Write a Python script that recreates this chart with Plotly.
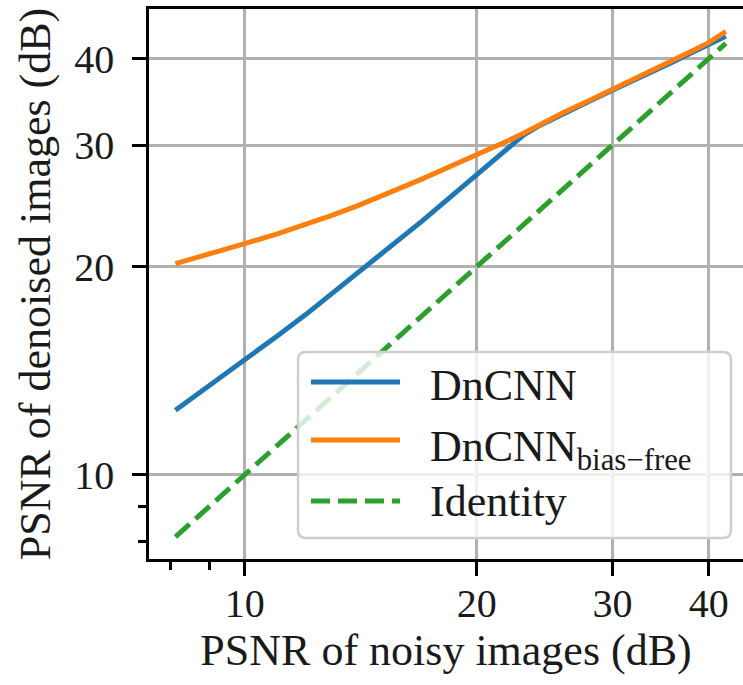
import plotly.graph_objects as go

# ---- data ----
psnr_noisy = [8.13, 9, 10, 11, 12, 13, 14, 15, 16, 17, 18, 19, 20, 21, 22, 23, 24,
              26, 28, 30, 32, 34, 36, 38, 40, 42.1]
dncnn = [12.4, 13.45, 14.65, 15.85, 17.05, 18.3, 19.55, 20.8, 22.05, 23.3, 24.6, 25.9, 27.2,
         28.55, 29.85, 31.0, 31.9, 33.4, 34.7, 36.0, 37.2, 38.4, 39.6, 40.8, 41.9, 43.1]
dncnn_bf = [20.2, 20.85, 21.6, 22.3, 23.0, 23.75, 24.5, 25.25, 26.05, 26.8, 27.55, 28.3, 29.05,
            29.75, 30.45, 31.2, 32.0, 33.5, 34.8, 36.1, 37.3, 38.5, 39.7, 41.0, 42.2, 43.8]
identity = list(psnr_noisy)

major_ticks = [10, 20, 30, 40]
minor_ticks = [8, 9]
series_names = ["DnCNN", "DnCNN<sub>bias\u2212free</sub>", "Identity"]
colors = ["#1f77b4", "#ff7f0e", "#2ca02c"]

W, H = 743, 685
ML, MR, MT, MB = 149, 0, 9, 126
FONT = "Liberation Serif"

fig = go.Figure()
fig.add_trace(go.Scatter(x=psnr_noisy, y=dncnn, mode="lines", name="DnCNN",
                         line=dict(color=colors[0], width=5), showlegend=False))
fig.add_trace(go.Scatter(x=psnr_noisy, y=dncnn_bf, mode="lines", name="DnCNN bias-free",
                         line=dict(color=colors[1], width=5), showlegend=False))
fig.add_trace(go.Scatter(x=psnr_noisy, y=identity, mode="lines", name="Identity",
                         line=dict(color=colors[2], width=5, dash="19px,8px"), showlegend=False))

axis_common = dict(
    type="log", showline=True, linecolor="black", linewidth=2.5,
    showgrid=True, gridcolor="#b0b0b0", gridwidth=2.5,
    ticks="outside", ticklen=14, tickwidth=2.5, tickcolor="black",
    tickmode="array", tickvals=major_ticks, ticktext=[str(t) for t in major_ticks],
    tickfont=dict(family=FONT, size=40, color="#1a1a1a"),
    minor=dict(tickmode="array", tickvals=minor_ticks, ticks="outside", ticklen=8,
               tickwidth=2.5, tickcolor="black", showgrid=False),
    zeroline=False, automargin=False,
)

fig.update_layout(
    width=W, height=H,
    margin=dict(l=ML, r=MR, t=MT, b=MB),
    paper_bgcolor="white", plot_bgcolor="white",
    xaxis=dict(axis_common, range=[0.8758, 1.6466], mirror=True,
               ticklabelstandoff=-7,
               title=dict(text="PSNR of noisy images (dB)", standoff=10,
                          font=dict(family=FONT, size=44, color="#1a1a1a"))),
    yaxis=dict(axis_common, range=[0.878, 1.674], mirror=False,
               ticklabelstandoff=10,
               title=dict(text="PSNR of denoised images (dB)", standoff=10,
                          font=dict(family=FONT, size=44, color="#1a1a1a"))),
)

# ---- custom legend (matplotlib style) ----
PW, PH = W - ML - MR, H - MT - MB
def px(x):
    return (x - ML) / PW
def py(y):
    return (H - MB - y) / PH

x0, x1, y0, y1, r = 298, 731, 352, 538, 8
pts = [("M", x0 + r, y0), ("L", x1 - r, y0), ("Q", x1, y0, x1, y0 + r), ("L", x1, y1 - r),
       ("Q", x1, y1, x1 - r, y1), ("L", x0 + r, y1), ("Q", x0, y1, x0, y1 - r),
       ("L", x0, y0 + r), ("Q", x0, y0, x0 + r, y0)]
path = ""
for p in pts:
    cmd = p[0]
    coords = p[1:]
    s = []
    for i in range(0, len(coords), 2):
        s.append(f"{px(coords[i]):.5f},{py(coords[i+1]):.5f}")
    path += cmd + " ".join(s) + " "
path += "Z"
fig.add_shape(type="path", path=path, xref="paper", yref="paper", layer="above",
              fillcolor="rgba(255,255,255,0.8)", line=dict(color="#cfcfcf", width=2.5))

entry_y = [382, 440, 501]
text_y = [385, 449, 501]
for i in range(3):
    fig.add_shape(type="line", xref="paper", yref="paper", layer="above",
                  x0=px(311), x1=px(400), y0=py(entry_y[i]), y1=py(entry_y[i]),
                  line=dict(color=colors[i], width=5,
                            dash="19px,8px" if i == 2 else "solid"))
    fig.add_annotation(text=series_names[i], xref="paper", yref="paper",
                       x=px(428), y=py(text_y[i]), xanchor="left", yanchor="middle",
                       showarrow=False, font=dict(family=FONT, size=44, color="#1a1a1a"))

fig.write_html("out.html", config={"displayModeBar": False},
               post_script="document.body.style.margin='0';")
